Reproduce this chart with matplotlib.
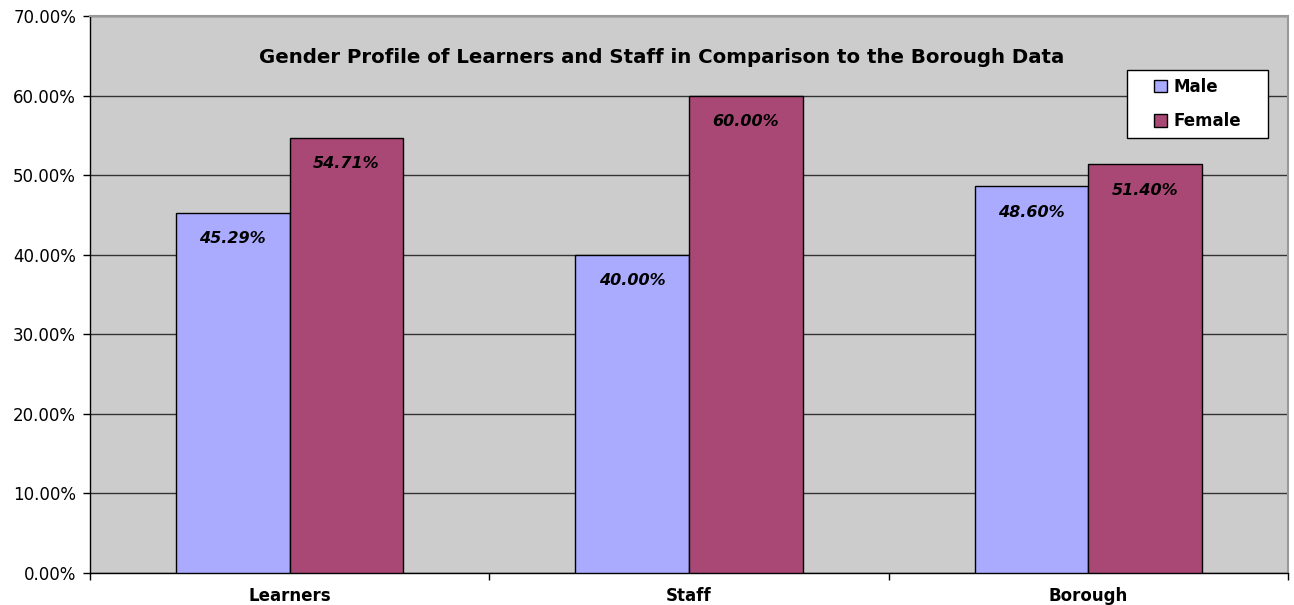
import matplotlib.pyplot as plt
import numpy as np
from matplotlib.ticker import FuncFormatter, FixedLocator
from matplotlib.patches import Rectangle

plt.rcParams['font.family'] = ['DejaVu Sans']

categories = ['Learners', 'Staff', 'Borough']
male = [45.29, 40.00, 48.60]
female = [54.71, 60.00, 51.40]
series_names = ['Male', 'Female']
title = 'Gender Profile of Learners and Staff in Comparison to the Borough Data'

fig = plt.figure(figsize=(12.94, 6.05), dpi=100)
ax = fig.add_axes([90 / 1294, 32 / 605, 1198 / 1294, 557 / 605])
ax.set_facecolor('#CCCCCC')

x = np.arange(len(categories))
w = 0.285
b1 = ax.bar(x - w / 2, male, w, color='#AAAAFF', edgecolor='black', linewidth=1, label=series_names[0], zorder=3)
b2 = ax.bar(x + w / 2, female, w, color='#A94874', edgecolor='black', linewidth=1, label=series_names[1], zorder=3)

for bars, vals in ((b1, male), (b2, female)):
    for r, v in zip(bars, vals):
        ax.annotate(f'{v:.2f}%', (r.get_x() + r.get_width() / 2, v), xytext=(0, -26),
                    textcoords='offset pixels',
                    ha='center', va='center', fontsize=11.5, fontweight='bold',
                    fontstyle='italic', zorder=4)

ax.set_xlim(-0.5, 2.5)
ax.set_ylim(0, 70)
ax.set_yticks(np.arange(0, 71, 10))
ax.yaxis.set_major_formatter(FuncFormatter(lambda v, p: f'{v:.2f}%'))
ax.tick_params(axis='y', labelsize=12, length=5, width=1, direction='out', pad=5)
ax.grid(axis='y', color='#333333', linewidth=1, zorder=1)

ax.set_xticks(x)
ax.set_xticklabels(categories, fontsize=12, fontweight='bold')
ax.tick_params(axis='x', which='major', length=0, pad=10)
ax.xaxis.set_minor_locator(FixedLocator([-0.5, 0.5, 1.5, 2.5]))
ax.tick_params(axis='x', which='minor', length=5, width=1, direction='out')

for s in ('left', 'bottom'):
    ax.spines[s].set_color('black')
    ax.spines[s].set_linewidth(1)
for s in ('top', 'right'):
    ax.spines[s].set_color('#999999')
    ax.spines[s].set_linewidth(1.5)

ax.text(0.477, 0.926, title, transform=ax.transAxes, ha='center', va='center',
        fontsize=14.2, fontweight='bold', zorder=5)

# legend box drawn separately so it can be wider than its contents
box = Rectangle((0.866, 0.781), 0.117, 0.122, transform=ax.transAxes,
                facecolor='white', edgecolor='black', linewidth=1, zorder=6)
ax.add_patch(box)
leg = ax.legend(loc='center', bbox_to_anchor=(0.9245, 0.842),
                prop={'weight': 'bold', 'size': 12}, frameon=False,
                handlelength=0.75, handleheight=0.75, handletextpad=0.4,
                borderpad=0, labelspacing=1.0, borderaxespad=0)
leg.set_zorder(7)

fig.savefig('out.png', dpi=100)
